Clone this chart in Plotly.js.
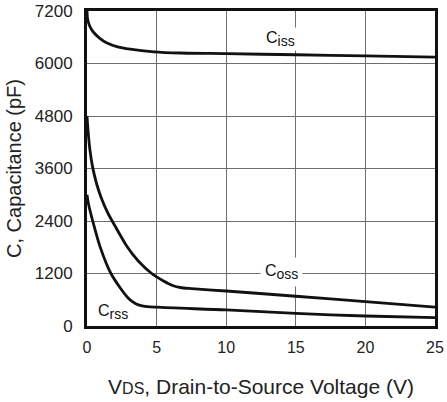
<!DOCTYPE html>
<html>
<head>
<meta charset="utf-8">
<script src="https://cdn.plot.ly/plotly-3.0.1.min.js"></script>
<style>html,body{margin:0;padding:0;background:#fff;}</style>
</head>
<body>
<div id="chart" style="width:447px;height:402px;"></div>
<script>
// Ciss
const cissX = [0, 0.03, 0.1, 0.25, 0.45, 0.9, 1.4, 2.2, 3.1, 4.8, 6.7, 10, 15, 20, 25];
const cissY = [7200, 7050, 6940, 6820, 6720, 6580, 6473, 6380, 6327, 6268, 6240, 6225, 6200, 6175, 6145];
// Coss
const cossX = [0, 0.08, 0.2, 0.41, 0.7, 1.0, 1.5, 1.9, 2.85, 3.7, 4.65, 5.5, 6.2, 6.7, 7.5, 10, 15, 20, 25];
const cossY = [4800, 4450, 4050, 3620, 3240, 2950, 2580, 2350, 1830, 1480, 1200, 1030, 920, 880, 855, 800, 680, 556, 433];
// Crss
const crssX = [0, 0.1, 0.41, 0.93, 1.72, 2.95, 3.5, 4.05, 5, 10, 15, 20, 25];
const crssY = [3000, 2800, 2400, 1820, 1200, 640, 510, 455, 430, 367, 287, 228, 190];

const xTicks = [0, 5, 10, 15, 20, 25];
const yTicks = [0, 1200, 2400, 3600, 4800, 6000, 7200];

const lineStyle = {color: '#111', width: 2.8, shape: 'spline', smoothing: 0.8};
const traces = [
  {x: cissX, y: cissY, mode: 'lines', line: lineStyle, hoverinfo: 'skip'},
  {x: cossX, y: cossY, mode: 'lines', line: lineStyle, hoverinfo: 'skip'},
  {x: crssX, y: crssY, mode: 'lines', line: lineStyle, hoverinfo: 'skip'}
];

const labelFont = {family: 'Liberation Sans, Arial, sans-serif', size: 16, color: '#111'};
const sub = s => 'C<sub><span style="font-size:14px">' + s + '</span></sub>';
const layout = {
  width: 447, height: 402,
  margin: {l: 87, r: 12, t: 11, b: 76},
  paper_bgcolor: '#fff', plot_bgcolor: '#fff',
  showlegend: false,
  font: {family: 'Liberation Sans, Arial, sans-serif', size: 16, color: '#222'},
  xaxis: {
    range: [0, 25], tickvals: xTicks, ticktext: xTicks.map(String),
    showgrid: true, gridcolor: '#6e6e6e', gridwidth: 1,
    zeroline: false, showline: true, linecolor: '#111', linewidth: 3, mirror: true,
    ticks: '', ticklabelstandoff: 5,
    tickfont: {size: 16, color: '#222'},
    title: {text: 'V<span style="font-size:16px">DS</span>, Drain-to-Source Voltage (V)', font: {size: 21, color: '#222'}, standoff: 25}
  },
  yaxis: {
    range: [0, 7200], tickvals: yTicks, ticktext: yTicks.map(String),
    showgrid: true, gridcolor: '#6e6e6e', gridwidth: 1,
    zeroline: false, showline: true, linecolor: '#111', linewidth: 3, mirror: true,
    ticks: '', ticklabelstandoff: 8,
    tickfont: {size: 17, color: '#222'},
    title: {text: 'C, Capacitance (pF)', font: {size: 20, color: '#222'}, standoff: 8}
  },
  annotations: [
    {x: 13.9, y: 6560, text: sub('iss'), showarrow: false, font: labelFont, bgcolor: '#fff', borderpad: 1},
    {x: 13.95, y: 1240, text: sub('oss'), showarrow: false, font: labelFont, bgcolor: '#fff', borderpad: 4},
    {x: 1.9, y: 330, text: sub('rss'), showarrow: false, font: labelFont, bgcolor: 'rgba(0,0,0,0)'}
  ]
};
Plotly.newPlot('chart', traces, layout, {staticPlot: true, displayModeBar: false});
</script>
</body>
</html>
